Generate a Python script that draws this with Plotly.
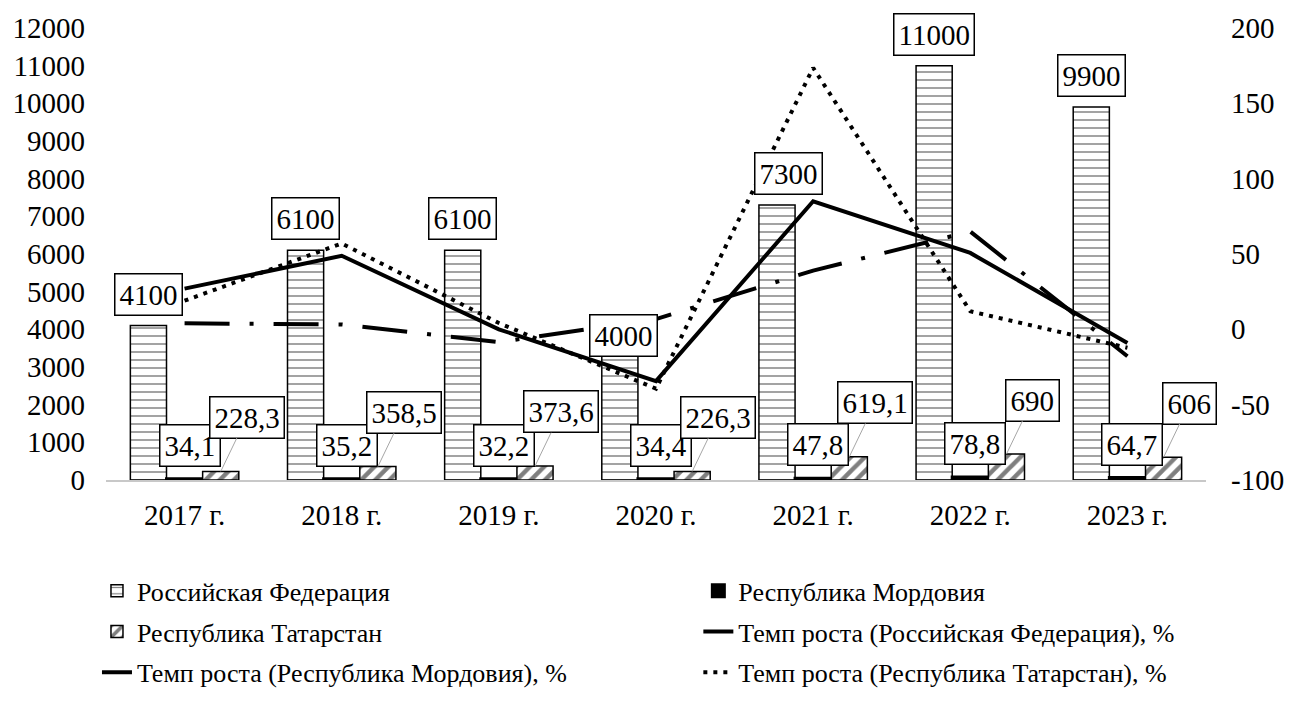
import plotly.graph_objects as go

# ---------------- data ----------------
years = ["2017 г.", "2018 г.", "2019 г.", "2020 г.", "2021 г.", "2022 г.", "2023 г."]
rf_values = [4100, 6100, 6100, 4000, 7300, 11000, 9900]
mordovia_values = [34.1, 35.2, 32.2, 34.4, 47.8, 78.8, 64.7]
tatarstan_values = [228.3, 358.5, 373.6, 226.3, 619.1, 690, 606]
rf_growth = [27, 48.8, 0, -34.4, 85, 50.7, -9]
mordovia_growth = [4, 3.2, -8.5, 6.8, 39, 64.9, -17.9]
tatarstan_growth = [19, 57, 4.2, -39.4, 173.6, 12, -12.2]

left_ticks = [0, 1000, 2000, 3000, 4000, 5000, 6000, 7000, 8000, 9000, 10000, 11000, 12000]
right_ticks = [-100, -50, 0, 50, 100, 150, 200]

names = [
    "Российская Федерация",
    "Республика Мордовия",
    "Республика Татарстан",
    "Темп роста (Российская Федерация), %",
    "Темп роста (Республика Мордовия), %",
    "Темп роста (Республика Татарстан), %",
]

# ---------------- style ----------------
FONT = "Liberation Serif, Times New Roman, serif"
FS = 29
W, H = 1301, 718
M = dict(l=104, r=95, t=25, b=238)
BARGAP = 0.31
plot_w = W - M["l"] - M["r"]
cat_w = plot_w / len(years)
bar_w = cat_w * (1 - BARGAP) / 3

# per-label nudges for the RF labels (index -> (dx, dy))
rf_label_nudge = {3: (4, -38), 4: (12, 0)}


def fmt(v):
    if float(v).is_integer():
        return str(int(v))
    return f"{v}".replace(".", ",")


fig = go.Figure()

fig.add_trace(go.Bar(
    x=years, y=rf_values, name=names[0], legend="legend", legendgroup="a",
    marker=dict(color="white", line=dict(color="black", width=1.5),
                pattern=dict(shape="-", fgcolor="black", bgcolor="white", size=8, solidity=0.18)),
))
fig.add_trace(go.Bar(
    x=years, y=mordovia_values, name=names[1], legend="legend2", legendgroup="b",
    marker=dict(color="black", line=dict(color="black", width=3)),
))
fig.add_trace(go.Bar(
    x=years, y=tatarstan_values, name=names[2], legend="legend", legendgroup="c",
    marker=dict(color="white", line=dict(color="black", width=1.5),
                pattern=dict(shape="/", fgcolor="black", bgcolor="white", size=10, solidity=0.45)),
))

fig.add_trace(go.Scatter(
    x=years, y=rf_growth, name=names[3], yaxis="y2", mode="lines",
    legend="legend2", legendgroup="d",
    line=dict(color="black", width=4),
))
fig.add_trace(go.Scatter(
    x=years, y=mordovia_growth, name=names[4], yaxis="y2", mode="lines",
    legend="legend", legendgroup="e",
    line=dict(color="black", width=4, dash="45px,20px,4px,20px"),
))
fig.add_trace(go.Scatter(
    x=years, y=tatarstan_growth, name=names[5], yaxis="y2", mode="lines",
    legend="legend2", legendgroup="f",
    line=dict(color="black", width=4, dash="4px,6px"),
))

annotations = []
box = dict(bgcolor="white", bordercolor="black", borderwidth=1.5, borderpad=4,
           font=dict(family=FONT, size=FS, color="black"))
for i, (yr, v) in enumerate(zip(years, rf_values)):
    dx, dy = rf_label_nudge.get(i, (0, 0))
    annotations.append(dict(x=yr, y=v, xref="x", yref="y", text=fmt(v), showarrow=False,
                            yanchor="bottom", xshift=-bar_w + dx, yshift=10 + dy, **box))
for yr, v in zip(years, mordovia_values):
    annotations.append(dict(x=yr, y=v, xref="x", yref="y", text=fmt(v), showarrow=False,
                            yanchor="bottom", xshift=5, yshift=12, **box))
for yr, v in zip(years, tatarstan_values):
    annotations.append(dict(x=yr, y=v, xref="x", yref="y", text=fmt(v), showarrow=True,
                            arrowhead=0, arrowwidth=1, arrowcolor="#a6a6a6",
                            ax=26, ay=-54, xshift=bar_w, **box))

leg_common = dict(orientation="v", yanchor="top", y=-0.193, xanchor="left",
                  font=dict(family=FONT, size=26, color="black"),
                  bgcolor="rgba(0,0,0,0)", tracegroupgap=4, traceorder="grouped")

fig.update_layout(
    width=W, height=H, margin=M,
    paper_bgcolor="white", plot_bgcolor="white",
    font=dict(family=FONT, size=FS, color="black"),
    barmode="group", bargap=BARGAP, bargroupgap=0,
    xaxis=dict(type="category", range=[-0.5, len(years) - 0.5], showline=True,
               linecolor="#c8c8c8", linewidth=1.5, ticks="", showgrid=False,
               tickfont=dict(family=FONT, size=FS), ticklabelstandoff=8),
    yaxis=dict(range=[0, 12000], tickmode="array", tickvals=left_ticks,
               ticktext=[str(t) for t in left_ticks],
               showgrid=False, zeroline=False, showline=False,
               ticks="", tickfont=dict(family=FONT, size=FS), ticklabelstandoff=20),
    yaxis2=dict(range=[-100, 200], tickmode="array", tickvals=right_ticks,
                ticktext=[str(t) for t in right_ticks],
                overlaying="y", side="right", showgrid=False,
                zeroline=False, showline=False, ticks="",
                tickfont=dict(family=FONT, size=FS), ticklabelstandoff=24),
    legend=dict(x=-0.0082, **leg_common),
    legend2=dict(x=0.5385, **leg_common),
    annotations=annotations,
    showlegend=True,
)

fig.write_html("out.html", config={"displayModeBar": False},
               post_script="document.body.style.margin='0';")
